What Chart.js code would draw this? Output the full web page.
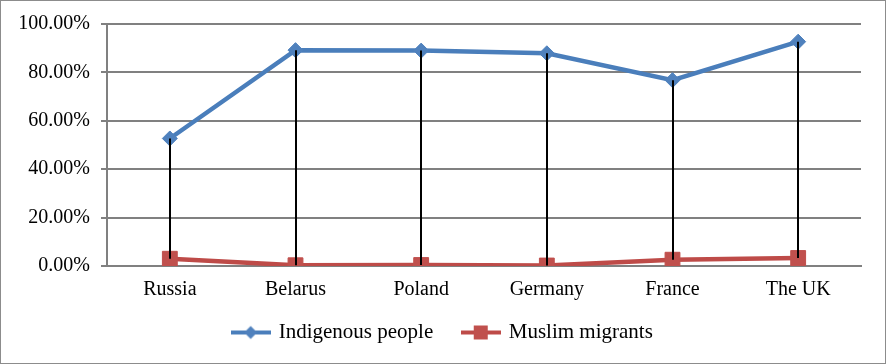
<!DOCTYPE html>
<html>
<head>
<meta charset="utf-8">
<script src="https://cdn.jsdelivr.net/npm/chart.js@4/dist/chart.umd.min.js"></script>
<style>
  html, body { margin: 0; padding: 0; background: #fff; }
  #wrap { width: 886px; height: 364px; box-sizing: border-box; border: 1px solid #8c8c8c; }
  canvas { display: block; }
  .probe { font-family: 'Liberation Serif'; position: absolute; left: -999px; }
</style>
</head>
<body>
<div id="wrap"><canvas id="chart" width="884" height="362"></canvas></div>
<span class="probe">Russia 0.00%</span>
<script>
const categories = ['Russia', 'Belarus', 'Poland', 'Germany', 'France', 'The UK'];
const indigenous = [52.7, 89.2, 89.0, 87.9, 76.8, 92.7];
const muslim = [3.0, 0.3, 0.4, 0.2, 2.6, 3.3];
const yTicks = [0, 20, 40, 60, 80, 100];

const BLUE = '#4a7ebb', BLUE_PT = '#4f81bd';
const RED = '#be4b48', RED_PT = '#c0504d';
const GRID = '#808080';
const FONT = 'Liberation Serif';

// small line + marker picture for the legend (like Excel)
function legendIcon(color, fill, shape) {
    const c = document.createElement('canvas');
    c.width = 40; c.height = 16;
    const x = c.getContext('2d');
    x.strokeStyle = color; x.lineWidth = 4;
    x.beginPath(); x.moveTo(0, 8); x.lineTo(40, 8); x.stroke();
    x.fillStyle = fill;
    x.beginPath();
    if (shape === 'diamond') {
        x.moveTo(20, 1.5); x.lineTo(26.5, 8); x.lineTo(20, 14.5); x.lineTo(13.5, 8);
    } else {
        x.rect(13, 1, 14, 14);
    }
    x.closePath(); x.fill();
    return c;
}

// black high-low lines between the two series
const dropLines = {
    id: 'dropLines',
    afterDatasetsDraw(chart) {
        const {ctx, scales: {x, y}} = chart;
        ctx.save();
        ctx.strokeStyle = '#000';
        ctx.lineWidth = 2;
        categories.forEach((c, i) => {
            const px = Math.round(x.getPixelForValue(i));
            const hi = Math.max(indigenous[i], muslim[i]);
            const lo = Math.min(indigenous[i], muslim[i]);
            ctx.beginPath();
            ctx.moveTo(px, y.getPixelForValue(hi));
            ctx.lineTo(px, y.getPixelForValue(lo));
            ctx.stroke();
        });
        ctx.restore();
    }
};

// pull the legend up a bit so it sits where Excel put it
const legendShift = {
    id: 'legendShift',
    afterLayout(chart) {
        const lg = chart.legend;
        if (!lg) return;
        lg.top -= 14;
        lg.height += 14;
    }
};

function draw() {
    new Chart(document.getElementById('chart'), {
        type: 'line',
        data: {
            labels: categories,
            datasets: [{
                label: 'Indigenous people',
                data: indigenous,
                borderColor: BLUE,
                backgroundColor: BLUE_PT,
                borderWidth: 4.5,
                pointStyle: 'rectRot',
                pointRadius: 7.5,
                pointBorderWidth: 1,
                pointBorderColor: BLUE_PT,
                pointBackgroundColor: BLUE_PT,
                tension: 0
            }, {
                label: 'Muslim migrants',
                data: muslim,
                borderColor: RED,
                backgroundColor: RED_PT,
                borderWidth: 4.5,
                pointStyle: 'rect',
                pointRadius: 10.5,
                pointBorderWidth: 1,
                pointBorderColor: RED_PT,
                pointBackgroundColor: RED_PT,
                tension: 0
            }]
        },
        options: {
            responsive: false,
            animation: false,
            layout: { padding: { top: 23, bottom: 10, left: 0, right: 0 } },
            plugins: {
                tooltip: { enabled: false },
                legend: {
                    position: 'bottom',
                    maxHeight: 47,
                    labels: {
                        font: { family: FONT, size: 21 },
                        color: '#000',
                        padding: 30,
                        usePointStyle: true,
                        pointStyleWidth: 35,
                        generateLabels: () => [
                            { text: 'Indigenous people', pointStyle: legendIcon(BLUE, BLUE_PT, 'diamond'), datasetIndex: 0, fontColor: '#000', lineWidth: 0 },
                            { text: 'Muslim migrants', pointStyle: legendIcon(RED, RED_PT, 'square'), datasetIndex: 1, fontColor: '#000', lineWidth: 0 }
                        ]
                    }
                }
            },
            scales: {
                x: {
                    offset: true,
                    grid: { display: false, drawTicks: false },
                    border: { display: true, color: GRID, width: 2 },
                    ticks: { font: { family: FONT, size: 20 }, color: '#000', padding: 12 },
                    afterFit: s => { s.height = 40; }
                },
                y: {
                    min: 0, max: 100,
                    afterBuildTicks: s => { s.ticks = yTicks.map(v => ({ value: v })); },
                    grid: { color: GRID, lineWidth: 2, tickLength: 6 },
                    border: { display: true, color: GRID, width: 2 },
                    ticks: {
                        font: { family: FONT, size: 20 }, color: '#000', padding: 11,
                        callback: v => v.toFixed(2) + '%'
                    },
                    afterFit: s => { s.width = 106; }
                },
                yR: {
                    position: 'right',
                    grid: { display: false },
                    border: { display: false },
                    ticks: { display: false },
                    afterFit: s => { s.width = 24; }
                }
            }
        },
        plugins: [dropLines, legendShift]
    });
}

document.fonts.load("20px 'Liberation Serif'").then(draw, draw);
</script>
</body>
</html>
